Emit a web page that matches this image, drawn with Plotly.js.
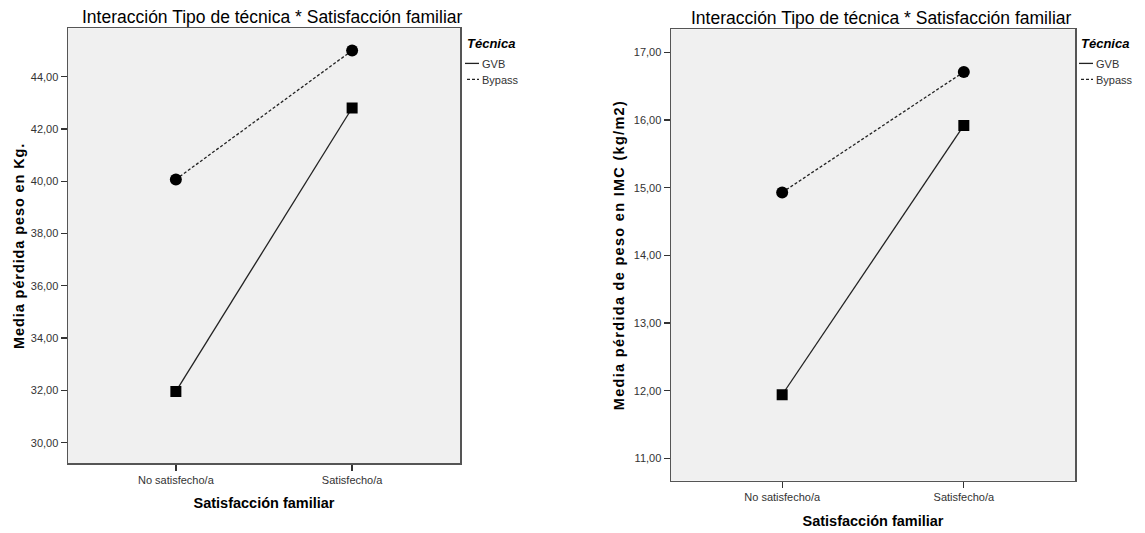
<!DOCTYPE html>
<html>
<head>
<meta charset="utf-8">
<script src="https://cdn.plot.ly/plotly-3.0.1.min.js"></script>
<style>
html, body { margin: 0; padding: 0; background: #fff; }
#chart { width: 1145px; height: 533px; }
.ytitle { letter-spacing: 0.9px; }
.y2title { letter-spacing: 1.3px; }
/* SPSS-style short legend keys */
.legendlines path { d: path('M5,0h17'); }
</style>
</head>
<body>
<div id="chart"></div>
<script>
// ---- data ----
const categories = ['No satisfecho/a', 'Satisfecho/a'];
const seriesNames = ['GVB', 'Bypass'];
// left panel: Media pérdida peso en Kg.
const pesoGVB = [31.96, 42.80];
const pesoBypass = [40.07, 45.00];
// right panel: Media pérdida de peso en IMC (kg/m2)
const imcGVB = [11.94, 15.92];
const imcBypass = [14.93, 16.71];

const chartTitle = 'Interacción Tipo de técnica * Satisfacción familiar';
const xTitle = 'Satisfacción familiar';
const yTitleLeft = 'Media pérdida peso en Kg.';
const yTitleRight = 'Media pérdida de peso en IMC (kg/m2)';
const legendTitle = 'Técnica';

const FONT = 'Arial, "Liberation Sans", sans-serif';
const INK = '#000';

function lineTrace(y, name, dash, xa, ya, lg) {
  return {
    type: 'scatter', mode: 'lines', x: categories, y: y, name: name,
    xaxis: xa, yaxis: ya, legend: lg,
    line: {color: '#222', width: 1.3, dash: dash},
    hoverinfo: 'skip'
  };
}
function markerTrace(y, name, symbol, size, xa, ya) {
  return {
    type: 'scatter', mode: 'markers', x: categories, y: y, name: name,
    xaxis: xa, yaxis: ya, showlegend: false,
    marker: {color: '#000', symbol: symbol, size: size}
  };
}

const traces = [
  lineTrace(pesoGVB, seriesNames[0], 'solid', 'x', 'y', 'legend'),
  lineTrace(pesoBypass, seriesNames[1], '3px,2px', 'x', 'y', 'legend'),
  markerTrace(pesoGVB, seriesNames[0], 'square', 11, 'x', 'y'),
  markerTrace(pesoBypass, seriesNames[1], 'circle', 12, 'x', 'y'),
  lineTrace(imcGVB, seriesNames[0], 'solid', 'x2', 'y2', 'legend2'),
  lineTrace(imcBypass, seriesNames[1], '3px,2px', 'x2', 'y2', 'legend2'),
  markerTrace(imcGVB, seriesNames[0], 'square', 11, 'x2', 'y2'),
  markerTrace(imcBypass, seriesNames[1], 'circle', 12, 'x2', 'y2')
];

const W = 1145, H = 533;
function xdom(l, r) { return [l / W, r / W]; }
function ydom(top, bottom) { return [1 - bottom / H, 1 - top / H]; }

const axisCommon = {
  showline: true, mirror: true, linecolor: '#555', linewidth: 1.5,
  showgrid: false, zeroline: false,
  ticks: 'outside', ticklen: 6, tickwidth: 1.3, tickcolor: '#333',
  tickfont: {family: FONT, size: 11, color: '#333'}
};

function xAxis(dom, anchor) {
  return Object.assign({}, axisCommon, {
    domain: dom, anchor: anchor, type: 'category', range: [-0.612, 1.612],
    title: {text: xTitle, font: {family: FONT, size: 14.5, color: INK, weight: 'bold'}, standoff: 13}
  });
}
function yAxis(dom, anchor, range, dtick, title, standoff) {
  return Object.assign({}, axisCommon, {
    domain: dom, anchor: anchor, range: range, dtick: dtick, tick0: 0,
    tickformat: '.2f',
    title: {text: title, font: {family: FONT, size: 14.5, color: INK, weight: 'bold'}, standoff: standoff}
  });
}

function legendCfg(xpx) {
  return {
    x: xpx / W, y: 1 - 31 / H, xanchor: 'left', yanchor: 'top',
    bgcolor: 'rgba(0,0,0,0)', borderwidth: 0,
    font: {family: FONT, size: 11, color: '#333'},
    title: {text: legendTitle, font: {family: FONT, size: 13, color: INK, weight: 'bold', style: 'italic'}},
    itemwidth: 30, indentation: -8, traceorder: 'normal'
  };
}

function titleAnn(xref, yref) {
  return {
    text: chartTitle, xref: xref, yref: yref, x: 0.5, y: 1,
    xanchor: 'center', yanchor: 'bottom', showarrow: false, yshift: -1, xshift: 8,
    font: {family: FONT, size: 17.5, color: INK}
  };
}

const layout = {
  width: W, height: H,
  margin: {l: 0, r: 0, t: 0, b: 0, autoexpand: false},
  paper_bgcolor: '#ffffff', plot_bgcolor: '#f0f0f0',
  separators: ',.',
  font: {family: FONT, color: '#222'},
  showlegend: true,
  xaxis: xAxis(xdom(68, 460), 'y'),
  yaxis: yAxis(ydom(28.3, 463.3), 'x', [29.21, 45.85], 2, yTitleLeft, 2),
  xaxis2: xAxis(xdom(671, 1075), 'y2'),
  yaxis2: yAxis(ydom(29.3, 480.7), 'x2', [10.67, 17.34], 1, yTitleRight, 5),
  legend: legendCfg(465),
  legend2: legendCfg(1079),
  annotations: [titleAnn('x domain', 'y domain'), titleAnn('x2 domain', 'y2 domain')]
};

// compact SPSS-like legends: item text right after the short key, tighter rows
const TEXT_X = 17;
function compactLegends(gd) {
  gd.querySelectorAll('text.legendtext, text.legend2text').forEach(function (t) {
    t.setAttribute('x', TEXT_X);
    t.querySelectorAll('tspan[x]').forEach(function (s) { s.setAttribute('x', TEXT_X); });
  });
  gd.querySelectorAll('g.scrollbox').forEach(function (box) {
    var items = box.querySelectorAll('g.traces');
    var y0 = null;
    items.forEach(function (g, i) {
      var m = /translate\(\s*([-\d.]+)[ ,]+([-\d.]+)\s*\)/.exec(g.getAttribute('transform') || '');
      if (!m) return;
      var tx = parseFloat(m[1]), ty = parseFloat(m[2]);
      if (g.dataset.y0 === undefined) g.dataset.y0 = (y0 === null ? ty : y0);
      if (y0 === null) y0 = parseFloat(g.dataset.y0);
      g.setAttribute('transform', 'translate(' + tx + ',' + (y0 + 1 + 16 * i) + ')');
    });
  });
}

const gdEl = document.getElementById('chart');
Plotly.newPlot(gdEl, traces, layout, {displayModeBar: false, staticPlot: true}).then(function (gd) {
  compactLegends(gd);
  setTimeout(function () { compactLegends(gd); }, 200);
});
</script>
</body>
</html>
